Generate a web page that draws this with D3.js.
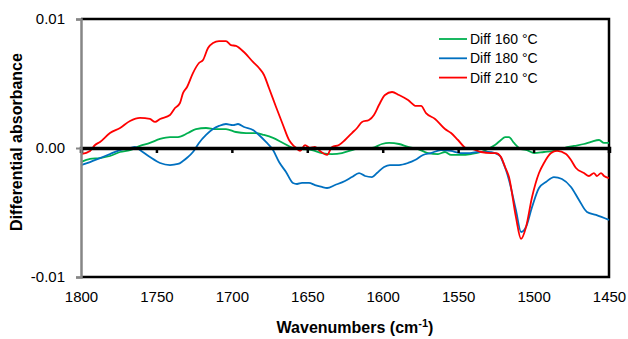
<!DOCTYPE html>
<html>
<head>
<meta charset="utf-8">
<script src="https://cdn.jsdelivr.net/npm/d3@7"></script>
<style>
  body { margin: 0; background: #fff; }
  text { font-family: "Liberation Sans", Arial, sans-serif; fill: #000; }
</style>
</head>
<body>
<div class="chart"></div>
<script>
// DATA: [wavenumber (cm-1), differential absorbance]
var diff160 = [[1800,-0.00109],[1794,-0.00085],[1787.4,-0.00078],[1780.8,-0.00062],[1774.1,-0.00031],[1767.5,-0.00016],[1760.9,0.00016],[1754.3,0.00039],[1747.6,0.0007],[1741,0.00085],[1735.7,0.00085],[1729.1,0.00116],[1723.8,0.00147],[1717.1,0.00155],[1710.5,0.00147],[1703.9,0.00147],[1697.3,0.00124],[1690.6,0.00116],[1684,0.00116],[1678.7,0.00101],[1672.7,0.00078],[1666.1,0.00039],[1659.5,0],[1653.5,-0.00008],[1646.9,-0.00016],[1640.3,-0.00039],[1633.6,-0.00047],[1627,-0.00039],[1620.4,-0.00016],[1613.7,0],[1607.1,0],[1600.5,0.00031],[1595.8,0.00039],[1589.2,0.00031],[1583.2,0.00008],[1576.6,-0.00008],[1570,-0.00039],[1563.3,-0.00047],[1558.7,-0.00031],[1554.7,-0.00054],[1548.1,-0.00054],[1541.5,-0.00047],[1534.8,-0.00031],[1530.2,-0.00008],[1525.6,0.00023],[1521.6,0.00062],[1518.9,0.00085],[1516.3,0.00085],[1513,0.00039],[1508.3,-0.00008],[1504.4,-0.00016],[1499.7,-0.00039],[1493.1,-0.00031],[1486.5,-0.00023],[1479.8,0],[1473.2,0.00016],[1466.6,0.00031],[1461.9,0.00047],[1456.6,0.00062],[1453.3,0.00039],[1450,0.00039]];

var diff180 = [[1800,-0.00132],[1794,-0.00109],[1787.4,-0.00078],[1780.8,-0.00047],[1774.1,-0.00016],[1767.5,0],[1764.2,0.00008],[1760.9,-0.00016],[1754.3,-0.0007],[1747.6,-0.00116],[1741,-0.00132],[1735.7,-0.00124],[1732.4,-0.00101],[1729.1,-0.0007],[1725.8,-0.00031],[1721.8,0.00039],[1717.1,0.00101],[1712.5,0.00147],[1708.5,0.00171],[1703.9,0.00186],[1699.2,0.00178],[1695.9,0.00186],[1691.9,0.00163],[1686,0.0014],[1682,0.00101],[1677.4,0.00047],[1672.7,-0.00016],[1668.7,-0.00109],[1664.1,-0.00186],[1659.5,-0.00271],[1656.8,-0.00279],[1653.5,-0.00271],[1648.9,-0.00271],[1644.9,-0.00287],[1640.3,-0.00302],[1636.9,-0.0031],[1631.6,-0.00287],[1625,-0.00256],[1620.4,-0.00225],[1615.7,-0.00194],[1611.7,-0.00217],[1607.1,-0.00225],[1603.8,-0.00194],[1599.1,-0.00147],[1595.2,-0.00132],[1589.2,-0.00132],[1583.2,-0.00116],[1578.6,-0.00093],[1573.3,-0.00054],[1568,-0.00039],[1561.4,-0.00016],[1554.7,-0.00023],[1548.8,-0.00039],[1543.5,-0.00039],[1536.8,-0.00031],[1530.2,-0.00031],[1525.6,-0.00039],[1522.2,-0.00062],[1520.3,-0.00109],[1518.3,-0.00171],[1516.3,-0.00248],[1511.7,-0.00481],[1508.3,-0.00651],[1505,-0.00612],[1501,-0.00457],[1496.4,-0.0031],[1491.8,-0.00264],[1486.5,-0.00225],[1481.2,-0.0024],[1475.2,-0.00302],[1469.9,-0.00403],[1464.6,-0.00496],[1458.6,-0.00519],[1450,-0.00558]];

var diff210 = [[1800,-0.00047],[1794,-0.00023],[1790.7,0.00023],[1787.4,0.00047],[1780.8,0.00116],[1774.1,0.00155],[1767.5,0.00209],[1760.9,0.00233],[1754.3,0.00225],[1750.9,0.00202],[1747.6,0.00225],[1741,0.00256],[1737.7,0.0031],[1734.4,0.00349],[1732.4,0.00426],[1729.7,0.00473],[1725.8,0.00581],[1721.8,0.00659],[1719.1,0.00682],[1715.8,0.00775],[1712.5,0.00814],[1708.5,0.00829],[1703.9,0.00829],[1700.6,0.00798],[1697.3,0.00791],[1692,0.00744],[1686,0.00667],[1682,0.0062],[1678.7,0.00566],[1675.4,0.00465],[1670.7,0.00318],[1666.1,0.00178],[1662.1,0.00062],[1659.5,0.00023],[1658.1,0.00008],[1654.8,-0.00023],[1651.5,0.00023],[1648.2,0],[1644.9,0.00008],[1641.6,-0.00023],[1636.9,-0.00054],[1633.6,0.00008],[1629,0.00023],[1625,0.00062],[1620.4,0.00116],[1617,0.00155],[1613.7,0.00202],[1609.1,0.00217],[1605.8,0.00256],[1602.5,0.00333],[1598.5,0.00411],[1593.8,0.00434],[1589.2,0.00411],[1583.2,0.00372],[1577.9,0.00326],[1574.6,0.00326],[1571.3,0.00271],[1565.3,0.00225],[1558.7,0.00147],[1554.7,0.00116],[1550.1,0.00062],[1544.8,0],[1540.2,-0.00008],[1534.8,-0.00031],[1528.2,-0.00039],[1524.9,-0.00039],[1521.6,-0.0007],[1518.9,-0.00147],[1516.3,-0.00225],[1511.7,-0.00535],[1508.3,-0.00705],[1505,-0.00612],[1501,-0.0038],[1496.4,-0.00194],[1493.1,-0.00116],[1488.4,-0.00039],[1484.5,-0.00023],[1478.5,-0.00047],[1475.2,-0.00093],[1471.9,-0.00155],[1466.6,-0.00194],[1463.3,-0.00217],[1460,-0.00194],[1458,-0.00217],[1455.3,-0.00194],[1453.3,-0.00217],[1450,-0.00233]];

var seriesNames = ['Diff 160 °C', 'Diff 180 °C', 'Diff 210 °C'];
var xTicks = [1800, 1750, 1700, 1650, 1600, 1550, 1500, 1450];
var yTicks = [-0.01, 0, 0.01];
var yTickLabels = ['-0.01', '0.00', '0.01'];

var width = 628, height = 339;
var plot = {left: 81, right: 609, top: 19, bottom: 277};
var colors = ['#00B050', '#0070C0', '#FF0000'];

var svg = d3.select('.chart')
  .append('svg')
  .attr('width', width)
  .attr('height', height);

var xScale = d3.scaleLinear()
  .domain([1800, 1450])
  .range([plot.left, plot.right]);

var yScale = d3.scaleLinear()
  .domain([-0.01, 0.01])
  .range([plot.bottom, plot.top]);

// plot border (top, right, bottom)
svg.append('path')
  .attr('d', 'M' + plot.left + ',' + yScale(0.01) + 'H' + plot.right + 'V' + yScale(-0.01) + 'H' + plot.left)
  .attr('fill', 'none')
  .attr('stroke', '#000')
  .attr('stroke-width', 2.5);

// LINES
var line = d3.line()
  .x((d) => xScale(d[0]))
  .y((d) => yScale(d[1]))
  .curve(d3.curveMonotoneX);

[diff160, diff180, diff210].forEach((s, i) => {
  svg.append('path')
    .datum(s)
    .attr('fill', 'none')
    .attr('stroke', colors[i])
    .attr('stroke-width', 1.8)
    .attr('stroke-linejoin', 'round')
    .attr('d', line);
});

// X axis crossing at zero
var xAxisZero = svg.append('g')
  .attr('transform', 'translate(0,' + yScale(0) + ')')
  .call(d3.axisBottom(xScale).tickValues(xTicks.slice(0, -1)).tickSize(5).tickFormat(''));
xAxisZero.select('.domain').attr('stroke', '#000').attr('stroke-width', 3.5);
xAxisZero.selectAll('.tick line').attr('stroke', '#000').attr('stroke-width', 2.5);

// X tick labels along the bottom
var xLabels = svg.append('g')
  .attr('transform', 'translate(0,' + plot.bottom + ')')
  .call(d3.axisBottom(xScale).tickValues(xTicks).tickSize(0).tickPadding(14).tickFormat(d3.format('d')));
xLabels.select('.domain').remove();
xLabels.selectAll('text').style('font-size', '15px').style('font-family', '"Liberation Sans", Arial, sans-serif');

// Y axis
var yAxis = svg.append('g')
  .attr('transform', 'translate(' + plot.left + ',0)')
  .call(d3.axisLeft(yScale).tickValues(yTicks).tickSize(5).tickPadding(11)
    .tickFormat((d, i) => yTickLabels[i]));
yAxis.select('.domain').attr('stroke', '#868686').attr('stroke-width', 2.5);
yAxis.selectAll('.tick line').attr('stroke', '#868686').attr('stroke-width', 2);
yAxis.selectAll('text').style('font-size', '15px').style('font-family', '"Liberation Sans", Arial, sans-serif');

// AXIS TITLES
var xTitle = svg.append('text')
  .attr('x', 355)
  .attr('y', 333)
  .attr('text-anchor', 'middle')
  .style('font-size', '16px')
  .style('font-weight', 'bold');
xTitle.append('tspan').text('Wavenumbers (cm');
xTitle.append('tspan').attr('dy', -6).style('font-size', '11px').text('-1');
xTitle.append('tspan').attr('dy', 6).text(')');

svg.append('text')
  .attr('transform', 'translate(22,142) rotate(-90)')
  .attr('text-anchor', 'middle')
  .style('font-size', '16px')
  .style('font-weight', 'bold')
  .text('Differential absorbance');

// LEGEND
var legend = svg.append('g').attr('transform', 'translate(439,39)');
seriesNames.forEach((name, i) => {
  var row = legend.append('g').attr('transform', 'translate(0,' + (i * 19.3) + ')');
  row.append('line')
    .attr('x1', 0).attr('x2', 28)
    .attr('stroke', colors[i])
    .attr('stroke-width', 1.8);
  row.append('text')
    .attr('x', 31)
    .attr('dy', '0.35em')
    .style('font-size', '14px')
    .text(name);
});
</script>
</body>
</html>
